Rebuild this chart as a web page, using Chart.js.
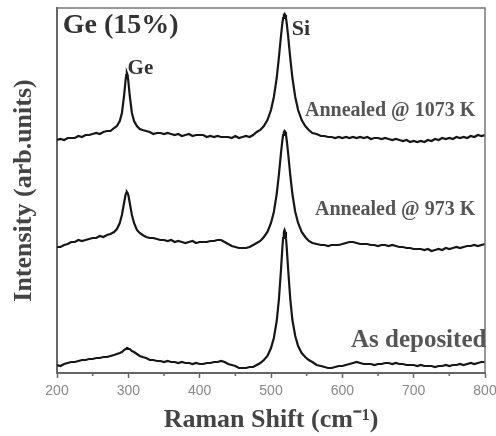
<!DOCTYPE html>
<html>
<head>
<meta charset="utf-8">
<script src="https://cdn.jsdelivr.net/npm/chart.js@4.4.1/dist/chart.umd.min.js"></script>
<style>
  html, body { margin: 0; padding: 0; background: #fff; }
</style>
</head>
<body>
<canvas id="raman" width="496" height="436"></canvas>
<script>
// Raman shift (cm-1), denser round the Ge (~298) and Si (~519) peaks
const shift = [
    200, 205, 210, 215, 220, 225, 230, 235, 240, 245,
    250, 255, 260, 265, 270, 275, 280, 284, 288, 291,
    294, 296, 297, 298, 299, 300, 302, 305, 308, 312,
    316, 320, 325, 330, 335, 340, 345, 350, 355, 360,
    365, 370, 375, 380, 385, 390, 395, 400, 405, 410,
    415, 420, 425, 430, 435, 440, 445, 450, 455, 460,
    465, 470, 475, 480, 485, 490, 495, 500, 504, 508,
    511, 514, 516, 517, 518, 519, 520, 521, 522, 524,
    527, 530, 534, 538, 543, 548, 553, 558, 564, 570,
    575, 580, 585, 590, 595, 600, 605, 610, 615, 620,
    625, 630, 635, 640, 645, 650, 655, 660, 665, 670,
    675, 680, 685, 690, 695, 700, 705, 710, 715, 720,
    725, 730, 735, 740, 745, 750, 755, 760, 765, 770,
    775, 780, 785, 790, 795, 800
];

// intensities (arb. units, spectra already stacked with their offsets)
const annealed1073 = [
    233, 234, 233, 235, 235, 235, 237, 236, 238, 238,
    239, 240, 239, 241, 242, 242, 245, 247, 252, 260,
    277, 292, 298, 300, 298, 292, 277, 260, 252, 247,
    244, 243, 242, 241, 239, 240, 240, 239, 240, 239,
    238, 239, 237, 238, 239, 237, 238, 238, 238, 236,
    237, 236, 237, 236, 236, 236, 235, 237, 235, 236,
    237, 236, 238, 241, 243, 247, 253, 263, 276, 295,
    315, 337, 350, 355, 358, 359, 358, 355, 350, 337,
    315, 295, 276, 263, 253, 247, 243, 240, 239, 237,
    237, 236, 236, 235, 236, 235, 236, 235, 236, 235,
    236, 235, 236, 234, 235, 235, 234, 235, 234, 233,
    234, 233, 232, 233, 231, 232, 231, 232, 231, 233,
    232, 234, 233, 235, 234, 235, 234, 236, 235, 236,
    235, 237, 236, 238, 237, 238
];

const annealed973 = [
    126, 126, 128, 129, 131, 131, 133, 132, 133, 134,
    135, 135, 137, 136, 138, 139, 141, 144, 150, 158,
    170, 178, 180, 181, 180, 178, 170, 158, 150, 143,
    140, 138, 136, 135, 135, 134, 133, 133, 132, 133,
    131, 132, 131, 130, 131, 132, 130, 131, 131, 131,
    132, 132, 133, 133, 131, 129, 127, 126, 125, 125,
    125, 126, 128, 130, 132, 136, 141, 150, 161, 179,
    198, 220, 233, 238, 241, 242, 241, 238, 233, 220,
    198, 179, 161, 150, 141, 136, 132, 130, 129, 128,
    128, 127, 128, 128, 128, 129, 130, 131, 131, 130,
    129, 129, 129, 128, 128, 127, 128, 128, 127, 128,
    127, 126, 126, 125, 125, 124, 124, 124, 123, 124,
    122, 123, 124, 123, 125, 124, 125, 126, 125, 126,
    127, 127, 128, 127, 128, 129
];

const asDeposited = [
    8, 7, 9, 10, 11, 11, 12, 13, 13, 14,
    14, 15, 15, 16, 16, 17, 18, 19, 20, 21,
    23, 24, 24, 25, 25, 24, 24, 22, 21, 19,
    17, 16, 15, 13, 13, 12, 12, 11, 12, 11,
    11, 10, 11, 10, 10, 9, 10, 9, 9, 10,
    10, 11, 11, 12, 11, 9, 8, 7, 5, 5,
    5, 6, 6, 8, 10, 13, 17, 25, 35, 52,
    73, 103, 126, 135, 141, 143, 141, 135, 126, 104,
    74, 53, 37, 27, 20, 16, 13, 11, 8, 7,
    6, 5, 5, 6, 7, 7, 8, 9, 10, 11,
    10, 9, 9, 9, 8, 9, 9, 10, 10, 9,
    10, 9, 9, 8, 8, 8, 7, 8, 7, 7,
    7, 6, 7, 7, 8, 7, 8, 8, 9, 8,
    9, 10, 9, 10, 11, 11
];

const xMin = 200;
const xMax = 800;
const minorTicks = [250, 350, 450, 550, 650, 750];

// text written inside the plot, placed in data units
const notes = [
    { text: 'Ge (15%)', x: 208, y: 347, size: 28, color: '#333', align: 'left' },
    { text: 'Ge', x: 299, y: 304, size: 21, color: '#333', align: 'left' },
    { text: 'Si', x: 529, y: 344, size: 22, color: '#333', align: 'left' },
    { text: 'Annealed @ 1073 K', x: 667, y: 262, size: 20, color: '#555', align: 'center' },
    { text: 'Annealed @ 973 K', x: 674, y: 163, size: 20, color: '#555', align: 'center' },
    { text: 'As deposited', x: 707, y: 32, size: 25, color: '#555', align: 'center' }
];

function toPoints(values) {
    return shift.map(function (s, i) {
        return { x: s, y: values[i] };
    });
}

function spectrum(values) {
    return {
        data: toPoints(values),
        borderColor: '#161616',
        borderWidth: 2.2,
        pointRadius: 0,
        tension: 0,
        fill: false
    };
}

const framePlugin = {
    id: 'frame',
    afterDraw(chart) {
        let ctx = chart.ctx;
        let area = chart.chartArea;
        let xs = chart.scales.x;
        let ys = chart.scales.y;

        ctx.save();
        /* top and right edge of the box */
        ctx.strokeStyle = '#777';
        ctx.lineWidth = 1.5;
        ctx.beginPath();
        ctx.moveTo(area.left, area.top);
        ctx.lineTo(area.right, area.top);
        ctx.lineTo(area.right, area.bottom);
        ctx.stroke();

        /* minor ticks */
        ctx.strokeStyle = '#666';
        ctx.beginPath();
        minorTicks.forEach(function (v) {
            let px = xs.getPixelForValue(v);
            ctx.moveTo(px, area.bottom);
            ctx.lineTo(px, area.bottom + 3);
        });
        ctx.stroke();

        /* labels */
        ctx.textBaseline = 'middle';
        notes.forEach(function (n) {
            ctx.font = 'bold ' + n.size + 'px "Liberation Serif", "Times New Roman", serif';
            ctx.fillStyle = n.color;
            ctx.textAlign = n.align;
            ctx.fillText(n.text, xs.getPixelForValue(n.x), ys.getPixelForValue(n.y));
        });
        ctx.restore();
    }
};

const titleFont = { family: '"Liberation Serif", "Times New Roman", serif', size: 26, weight: 'bold' };

new Chart(document.getElementById('raman'), {
    type: 'line',
    data: {
        datasets: [spectrum(annealed1073), spectrum(annealed973), spectrum(asDeposited)]
    },
    options: {
        responsive: false,
        animation: false,
        layout: { padding: { top: 8, right: 11, left: 0, bottom: 0 } },
        plugins: {
            legend: { display: false },
            tooltip: { enabled: false }
        },
        scales: {
            x: {
                type: 'linear',
                min: xMin,
                max: xMax,
                afterFit: function (scale) {
                    scale.height = 63;
                    scale.paddingLeft = 0;
                    scale.paddingRight = 0;
                },
                ticks: {
                    stepSize: 100,
                    color: '#888',
                    padding: 5,
                    maxRotation: 0,
                    font: { family: '"Liberation Sans", Arial, sans-serif', size: 14 }
                },
                grid: {
                    drawOnChartArea: false,
                    tickLength: 5,
                    tickWidth: 1.5,
                    tickColor: '#666'
                },
                border: { display: true, color: '#666', width: 2 },
                title: {
                    display: true,
                    text: 'Raman Shift (cm⁻¹)',
                    color: '#444',
                    font: titleFont,
                    padding: { top: 0, bottom: 0 }
                }
            },
            y: {
                min: 0,
                max: 365,
                afterFit: function (scale) { scale.width = 57; },
                ticks: { display: false },
                grid: { display: false },
                border: { display: true, color: '#666', width: 2 },
                title: {
                    display: true,
                    text: 'Intensity (arb.units)',
                    color: '#444',
                    font: titleFont,
                    padding: { top: 9, bottom: 0 }
                }
            }
        }
    },
    plugins: [framePlugin]
});
</script>
</body>
</html>
